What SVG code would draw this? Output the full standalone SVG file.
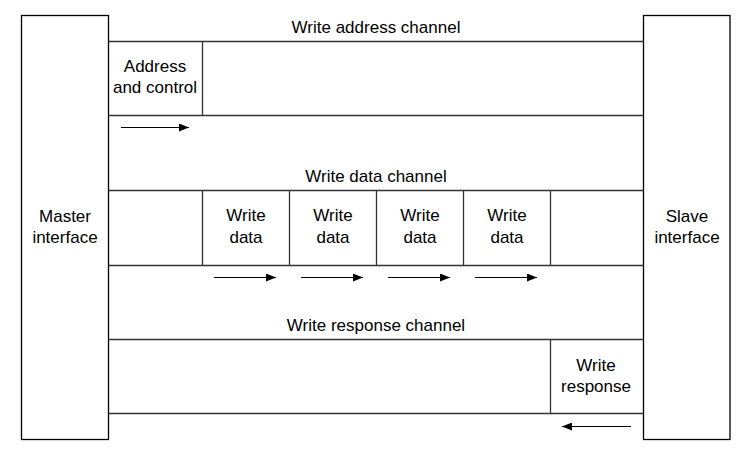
<svg xmlns="http://www.w3.org/2000/svg" width="752" height="456" viewBox="0 0 752 456">
<style>
.box{fill:#fff;stroke:#000;stroke-width:1.3}
.ln{fill:none;stroke:#333;stroke-width:1.3}
.t{font-family:"Liberation Sans",Arial,sans-serif;font-size:17px;fill:#000;text-anchor:middle}
.ar{stroke:#000;stroke-width:1.2;fill:none;marker-end:url(#ah)}
</style>
<defs>
<marker id="ah" viewBox="0 0 10 8" refX="10" refY="4" markerWidth="10" markerHeight="8" markerUnits="userSpaceOnUse" orient="auto">
<path d="M0,0 L10,4 L0,8 Z" fill="#000"/>
</marker>
</defs>
<rect width="752" height="456" fill="#fff"/>
<g id="master"><rect class="box" x="21.5" y="15.5" width="87" height="424"/>
<text class="t" x="65" y="222">Master</text><text class="t" x="65" y="243">interface</text></g>
<g id="slave"><rect class="box" x="643.5" y="15.5" width="86.5" height="424"/>
<text class="t" x="687" y="222">Slave</text><text class="t" x="687" y="243">interface</text></g>
<g id="addr-channel">
<text class="t" x="376" y="33">Write address channel</text>
<path class="ln" d="M108.5,41.5 H643.5 M108.5,115.5 H643.5 M202.5,41.5 V115.5"/>
<text class="t" x="155" y="72">Address</text><text class="t" x="155" y="93">and control</text>
</g>
<g id="data-channel">
<text class="t" x="376" y="182">Write data channel</text>
<path class="ln" d="M108.5,190.5 H643.5 M108.5,265.5 H643.5 M202.5,190.5 V265.5 M289.5,190.5 V265.5 M376.5,190.5 V265.5 M463.5,190.5 V265.5 M550.5,190.5 V265.5"/>
<text class="t" x="246" y="221">Write</text><text class="t" x="246" y="243">data</text>
<text class="t" x="333" y="221">Write</text><text class="t" x="333" y="243">data</text>
<text class="t" x="420" y="221">Write</text><text class="t" x="420" y="243">data</text>
<text class="t" x="507" y="221">Write</text><text class="t" x="507" y="243">data</text>
</g>
<g id="resp-channel">
<text class="t" x="376" y="331">Write response channel</text>
<path class="ln" d="M108.5,339.5 H643.5 M108.5,413.5 H643.5 M550.5,339.5 V413.5"/>
<text class="t" x="596" y="371">Write</text><text class="t" x="596" y="392">response</text>
</g>
<g id="connectors">
<line class="ar" x1="121" y1="127.5" x2="189" y2="127.5"/>
<line class="ar" x1="214" y1="277.5" x2="276" y2="277.5"/>
<line class="ar" x1="301" y1="277.5" x2="363" y2="277.5"/>
<line class="ar" x1="388" y1="277.5" x2="450" y2="277.5"/>
<line class="ar" x1="475" y1="277.5" x2="537" y2="277.5"/>
<line class="ar" x1="631" y1="426.5" x2="562" y2="426.5"/>
</g>
</svg>
